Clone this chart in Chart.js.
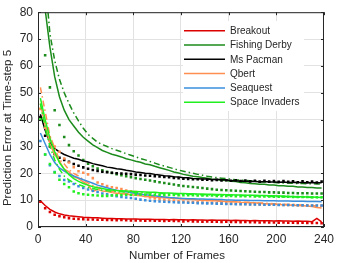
<!DOCTYPE html>
<html>
<head>
<meta charset="utf-8">
<script src="https://cdn.jsdelivr.net/npm/chart.js@4/dist/chart.umd.min.js"></script>
<style>
  html, body { margin: 0; padding: 0; background: #fff; }
  #wrap { width: 339px; height: 263px; position: relative; }
</style>
</head>
<body>
<div id="wrap"><canvas id="chart"></canvas></div>
<script>
// x positions (number of frames)
const frames = [2, 6, 10, 14, 18, 22, 26, 30, 34, 38, 42, 46, 50, 54, 58, 62, 66, 70, 74, 78,
  82, 86, 90, 94, 98, 102, 106, 110, 114, 118, 122, 126, 130, 134, 138, 142, 146, 150, 154, 158,
  162, 166, 170, 174, 178, 182, 186, 190, 194, 198, 202, 206, 210, 214, 218, 222, 226, 230, 234, 238];

const games = ['Breakout', 'Fishing Derby', 'Ms Pacman', 'Qbert', 'Seaquest', 'Space Invaders'];
const colors = ['#DD0000', '#1B8B1B', '#000000', '#FF8F50', '#3A8EDB', '#20F020'];

const xTicks = [0, 40, 80, 120, 160, 200, 240];
const yTicks = [0, 10, 20, 30, 40, 50, 60, 70, 80];

// Breakout
const breakoutLine = [9.8, 8.0, 6.6, 5.6, 4.9, 4.5, 4.2, 4.0, 3.8, 3.6,
  3.5, 3.4, 3.4, 3.3, 3.2, 3.2, 3.1, 3.1, 3.0, 3.0,
  3.0, 2.9, 2.9, 2.9, 2.8, 2.8, 2.8, 2.7, 2.8, 2.7,
  2.7, 2.6, 2.7, 2.6, 2.6, 2.5, 2.6, 2.5, 2.5, 2.5,
  2.4, 2.5, 2.4, 2.4, 2.3, 2.4, 2.3, 2.3, 2.3, 2.2,
  2.3, 2.2, 2.2, 2.1, 2.2, 2.1, 2.1, 2.0, 3.2, 1.9];
const breakoutDots = [9.4, 7.0, 5.6, 4.6, 4.0, 3.6, 3.3, 3.1, 3.0, 2.9,
  2.8, 2.8, 2.7, 2.7, 2.6, 2.6, 2.5, 2.6, 2.5, 2.4,
  2.4, 2.4, 2.3, 2.4, 2.3, 2.3, 2.2, 2.3, 2.2, 2.2,
  2.1, 2.2, 2.1, 2.1, 2.0, 2.1, 2.0, 2.0, 1.9, 2.0,
  1.9, 1.9, 1.8, 1.9, 1.8, 1.8, 1.7, 1.8, 1.7, 1.7,
  1.6, 1.7, 1.6, 1.6, 1.5, 1.6, 1.5, 1.5, 1.5, 1.4];

// Fishing Derby
const derbyLine = [105, 81, 67, 56, 48.5, 43.5, 40, 37.6, 35.3, 33.4,
  32.0, 30.6, 29.6, 28.5, 27.8, 27.1, 26.6, 26.1, 25.4, 25.0,
  24.5, 24.1, 23.5, 23.2, 22.6, 22.1, 21.6, 21.1, 20.5, 20.1,
  19.6, 19.3, 18.9, 18.7, 18.4, 18.2, 17.8, 17.7, 17.4, 17.3,
  17.0, 16.9, 16.6, 16.5, 16.2, 16.1, 15.9, 15.9, 15.6, 15.6,
  15.4, 15.4, 15.2, 15.2, 14.9, 14.9, 14.7, 14.7, 14.5, 14.5];
const derbyDash = [130, 92, 72, 62, 55, 50, 46, 42.5, 39.5, 36.8,
  34.5, 33.0, 31.6, 30.7, 30.0, 29.2, 28.6, 28.0, 27.3, 26.7,
  26.1, 25.5, 25.0, 24.4, 23.8, 23.2, 22.7, 22.2, 21.7, 21.2,
  20.8, 20.4, 20.0, 19.6, 19.3, 18.9, 18.6, 18.4, 18.2, 18.0,
  17.8, 17.6, 17.5, 17.3, 17.2, 17.0, 16.9, 16.8, 16.7, 16.6,
  16.5, 16.4, 16.4, 16.3, 16.2, 16.2, 16.1, 16.1, 16.0, 16.0];
const derbyDots = [88, 64, 52, 43.5, 38, 33.5, 30.5, 28.2, 26.6, 24.9,
  23.6, 22.6, 21.8, 21.1, 20.6, 20.1, 19.7, 19.3, 18.9, 18.5,
  18.2, 17.9, 17.6, 17.3, 17.0, 16.7, 16.4, 16.1, 15.8, 15.5,
  15.3, 15.1, 14.9, 14.7, 14.5, 14.3, 14.1, 13.9, 13.8, 13.7,
  13.6, 13.5, 13.4, 13.3, 13.2, 13.1, 13.0, 13.0, 12.9, 12.9,
  12.8, 12.8, 12.7, 12.7, 12.6, 12.6, 12.6, 12.5, 12.5, 12.5];

// Ms Pacman
const pacmanLine = [42.0, 36.0, 31.5, 29.2, 28.0, 27.0, 26.3, 25.6, 25.2, 24.6,
  24.2, 23.6, 23.2, 22.8, 22.3, 22.1, 21.7, 21.5, 21.1, 20.9,
  20.5, 20.3, 20.0, 19.9, 19.6, 19.4, 19.1, 19.0, 18.7, 18.6,
  18.3, 18.3, 18.1, 18.0, 17.9, 17.9, 17.7, 17.8, 17.6, 17.6,
  17.2, 17.2, 17.0, 17.1, 16.9, 17.0, 16.8, 16.9, 16.8, 16.8,
  16.7, 16.8, 16.6, 16.7, 16.6, 16.6, 16.5, 16.6, 16.5, 16.5];
const pacmanDots = [41, 34, 30, 27.2, 25.8, 25.0, 24.3, 23.5, 22.8, 22.2,
  21.7, 21.2, 20.9, 20.6, 20.4, 20.2, 20.0, 19.9, 19.8, 19.7,
  19.5, 19.4, 19.2, 19.1, 18.9, 18.8, 18.6, 18.5, 18.3, 18.2,
  18.0, 17.9, 17.8, 17.8, 17.6, 17.6, 17.4, 17.5, 17.3, 17.4,
  17.2, 17.4, 17.1, 17.3, 17.0, 17.2, 16.9, 17.2, 16.9, 17.1,
  16.8, 17.1, 16.8, 17.0, 16.7, 17.0, 16.7, 16.9, 16.6, 16.9];

// Qbert
const qbertLine = [46, 38, 31, 27, 24.5, 21.5, 20.5, 18.7, 18.0, 16.8,
  15.6, 13.2, 14.0, 13.4, 13.2, 12.8, 12.6, 12.4, 12.2, 12.0,
  11.8, 11.6, 11.4, 11.3, 11.1, 11.0, 10.9, 10.8, 10.6, 10.5,
  10.4, 10.3, 10.2, 10.1, 10.0, 9.9, 9.8, 9.8, 9.6, 9.5,
  9.4, 9.4, 9.2, 9.1, 9.0, 9.0, 8.8, 8.7, 8.6, 8.6,
  8.4, 8.3, 8.2, 8.1, 8.0, 7.9, 7.8, 7.6, 7.3, 7.1];
const qbertDash = [52, 43, 34, 29.5, 25, 23.5, 21.3, 20.0, 19.0, 17.6,
  16.4, 15.5, 14.8, 14.2, 13.7, 13.3, 13.0, 12.7, 12.5, 12.3,
  12.1, 11.9, 11.7, 11.5, 11.3, 11.2, 11.1, 10.9, 10.8, 10.7,
  10.6, 10.5, 10.4, 10.2, 10.1, 10.0, 10.0, 9.8, 9.7, 9.6,
  9.5, 9.5, 9.3, 9.2, 9.2, 9.0, 8.9, 8.9, 8.8, 8.7,
  8.6, 8.5, 8.4, 8.4, 8.3, 8.2, 8.1, 8.0, 7.8, 7.6];
const qbertDots = [44, 37, 33, 30, 28, 25.5, 24, 22.3, 20.8, 20.2,
  19.6, 18.2, 16.6, 15.9, 15.3, 14.8, 14.5, 14.1, 13.6, 13.3,
  13.0, 12.3, 11.6, 11.0, 10.6, 10.3, 10.1, 9.9, 9.8, 9.6,
  9.5, 9.4, 9.3, 9.2, 9.1, 9.0, 9.0, 8.9, 8.8, 8.8,
  8.7, 8.7, 8.6, 8.6, 8.5, 8.5, 8.4, 8.4, 8.3, 8.3,
  8.3, 8.2, 8.2, 8.2, 8.1, 8.1, 8.1, 8.0, 8.0, 8.0];

// Seaquest
const seaquestLine = [35, 31, 27, 24, 22, 20.8, 19.8, 19.0, 18.3, 17.6,
  17.0, 16.3, 15.6, 15.1, 14.6, 14.1, 13.7, 13.4, 13.1, 12.8,
  12.5, 12.2, 12.0, 11.8, 11.6, 11.4, 11.2, 11.0, 10.9, 10.7,
  10.6, 10.5, 10.5, 10.4, 10.4, 10.3, 10.3, 10.2, 10.2, 10.1,
  10.1, 10.0, 10.0, 10.0, 9.9, 9.9, 9.9, 9.8, 9.8, 9.8,
  9.7, 9.7, 9.7, 9.6, 9.6, 9.6, 9.5, 9.5, 9.5, 9.4];
const seaquestDots = [32, 27, 23, 20.5, 19, 17.5, 17, 16, 15.2, 14.5,
  14.0, 13.5, 13.0, 12.5, 12.2, 11.8, 11.5, 11.2, 11.0, 10.8,
  10.5, 10.2, 10.0, 9.8, 9.6, 9.5, 9.4, 9.3, 9.2, 9.1,
  9.1, 9.0, 9.0, 8.9, 8.9, 8.8, 8.8, 8.7, 8.7, 8.6,
  8.6, 8.5, 8.5, 8.5, 8.4, 8.4, 8.4, 8.3, 8.3, 8.3,
  8.2, 8.2, 8.2, 8.1, 8.1, 8.1, 8.0, 8.0, 8.0, 8.0];

// Space Invaders
const invadersLine = [48, 40, 33, 28, 24, 21.5, 19.5, 18.0, 17.0, 16.2,
  15.6, 15.0, 14.6, 14.3, 14.0, 13.8, 13.6, 13.5, 13.4, 13.3,
  13.2, 13.1, 13.0, 12.9, 12.9, 12.8, 12.7, 12.7, 12.6, 12.5,
  12.5, 12.4, 12.4, 12.3, 12.3, 12.2, 12.2, 12.1, 12.1, 12.0,
  12.0, 11.9, 11.9, 11.8, 11.8, 11.8, 11.7, 11.7, 11.6, 11.6,
  11.5, 11.5, 11.4, 11.4, 11.3, 11.3, 11.2, 11.2, 11.1, 11.0];
const invadersDash = [46, 37, 30, 25, 21.5, 19, 17.5, 16.5, 15.8, 15.2,
  14.7, 14.3, 14.0, 13.7, 13.5, 13.3, 13.2, 13.1, 13.0, 12.9,
  12.9, 12.8, 12.7, 12.7, 12.6, 12.5, 12.5, 12.4, 12.3, 12.3,
  12.2, 12.2, 12.1, 12.1, 12.0, 12.0, 11.9, 11.9, 11.8, 11.8,
  11.7, 11.7, 11.7, 11.6, 11.6, 11.5, 11.5, 11.5, 11.4, 11.4,
  11.3, 11.3, 11.3, 11.2, 11.2, 11.1, 11.1, 11.0, 11.0, 10.9];
const invadersDots = [40, 27, 23.5, 20.3, 17.6, 16.0, 14.8, 13.2, 12.6, 12.2,
  12.0, 11.8, 11.7, 11.6, 11.6, 11.7, 11.8, 11.9, 12.0, 12.0,
  12.1, 12.1, 12.1, 12.0, 12.0, 12.0, 11.9, 11.9, 11.9, 11.8,
  11.8, 11.8, 11.8, 11.7, 11.7, 11.7, 11.7, 11.6, 11.6, 11.6,
  11.6, 11.5, 11.5, 11.5, 11.5, 11.4, 11.4, 11.4, 11.4, 11.3,
  11.3, 11.3, 11.3, 11.2, 11.2, 11.2, 11.2, 11.1, 11.1, 11.1];

const textColor = '#262626';
const gridColor = '#E2E2E2';
const fontFamily = '"Liberation Sans", Arial, Helvetica, sans-serif';

function pts(values) {
  return values.map((v, i) => ({ x: frames[i], y: v }));
}

function solid(values, g, order) {
  return { label: games[g], data: pts(values), borderColor: colors[g], borderWidth: 1.5,
    pointRadius: 0, fill: false, tension: 0, order: order };
}
function dashDot(values, g, order) {
  return { label: games[g] + ' (dash-dot)', data: pts(values), borderColor: colors[g], borderWidth: 1.5,
    borderDash: [6, 3, 1.5, 3], pointRadius: 0, fill: false, tension: 0, order: order };
}
function dots(values, g, order) {
  return { label: games[g] + ' (dotted)', data: pts(values), showLine: false, pointStyle: 'rect',
    pointRadius: 1.8, pointBorderWidth: 0, backgroundColor: colors[g], borderColor: colors[g], order: order };
}

// later games drawn on top (lower order = drawn later)
const datasets = [
  solid(breakoutLine, 0, 60), dots(breakoutDots, 0, 61),
  solid(derbyLine, 1, 50), dashDot(derbyDash, 1, 51), dots(derbyDots, 1, 52),
  solid(pacmanLine, 2, 40), dots(pacmanDots, 2, 41),
  solid(qbertLine, 3, 30), dashDot(qbertDash, 3, 31), dots(qbertDots, 3, 32),
  solid(seaquestLine, 4, 20), dots(seaquestDots, 4, 21),
  solid(invadersLine, 5, 10), dashDot(invadersDash, 5, 11), dots(invadersDots, 5, 12)
];

// legend box drawn inside the plot area
const boxLegend = {
  id: 'boxLegend',
  afterDatasetsDraw(chart) {
    const ctx = chart.ctx;
    ctx.save();
    ctx.fillStyle = '#fff';
    ctx.fillRect(183, 21, 121, 90);
    ctx.font = '10px ' + fontFamily;
    ctx.textBaseline = 'middle';
    games.forEach((name, i) => {
      const y = 30.7 + i * 14.3;
      ctx.strokeStyle = colors[i];
      ctx.lineWidth = 1.5;
      ctx.beginPath();
      ctx.moveTo(184, y);
      ctx.lineTo(225, y);
      ctx.stroke();
      ctx.fillStyle = textColor;
      ctx.fillText(name, 230, y + 0.5);
    });
    ctx.restore();
  }
};

// MATLAB-like box with inward ticks, plus axis titles
const boxFrame = {
  id: 'boxFrame',
  afterDraw(chart) {
    const { ctx, chartArea: a, scales } = chart;
    const x = scales.x, y = scales.y;
    ctx.save();
    ctx.strokeStyle = textColor;
    ctx.lineWidth = 1;
    ctx.strokeRect(a.left + 0.5, a.top + 0.5, a.right - a.left - 1, a.bottom - a.top - 1);
    ctx.beginPath();
    xTicks.forEach(v => {
      const px = Math.round(x.getPixelForValue(v)) + 0.5;
      ctx.moveTo(px, a.bottom); ctx.lineTo(px, a.bottom - 3);
      ctx.moveTo(px, a.top); ctx.lineTo(px, a.top + 3);
    });
    yTicks.forEach(v => {
      const py = Math.round(y.getPixelForValue(v)) + 0.5;
      ctx.moveTo(a.left, py); ctx.lineTo(a.left + 3, py);
      ctx.moveTo(a.right, py); ctx.lineTo(a.right - 3, py);
    });
    ctx.stroke();

    ctx.fillStyle = textColor;
    ctx.font = '11.5px ' + fontFamily;
    ctx.textAlign = 'center';
    ctx.textBaseline = 'middle';
    ctx.fillText('Number of Frames', 177, 256);
    ctx.translate(8, 128);
    ctx.rotate(-Math.PI / 2);
    ctx.fillText('Prediction Error at Time-step 5', 0, 0);
    ctx.restore();
  }
};

const chart = new Chart(document.getElementById('chart').getContext('2d'), {
  type: 'line',
  data: { datasets: datasets },
  options: {
    responsive: true,
    maintainAspectRatio: false,
    animation: false,
    devicePixelRatio: 1,
    layout: { padding: { top: 7, right: 12, left: 0, bottom: 0 } },
    plugins: { legend: { display: false }, tooltip: { enabled: false } },
    scales: {
      x: {
        type: 'linear', min: 0, max: 240,
        afterFit(scale) { scale.height = 36; },
        afterBuildTicks(scale) { scale.ticks = xTicks.map(v => ({ value: v })); },
        grid: { color: gridColor, drawTicks: false },
        border: { display: false },
        ticks: { color: textColor, font: { family: fontFamily, size: 12 }, padding: 5, maxRotation: 0, autoSkip: false }
      },
      y: {
        type: 'linear', min: 0, max: 80,
        afterFit(scale) { scale.width = 38; },
        afterBuildTicks(scale) { scale.ticks = yTicks.map(v => ({ value: v })); },
        grid: { color: gridColor, drawTicks: false },
        border: { display: false },
        ticks: { color: textColor, font: { family: fontFamily, size: 12 }, padding: 5 }
      }
    }
  },
  plugins: [boxLegend, boxFrame]
});
</script>
</body>
</html>
